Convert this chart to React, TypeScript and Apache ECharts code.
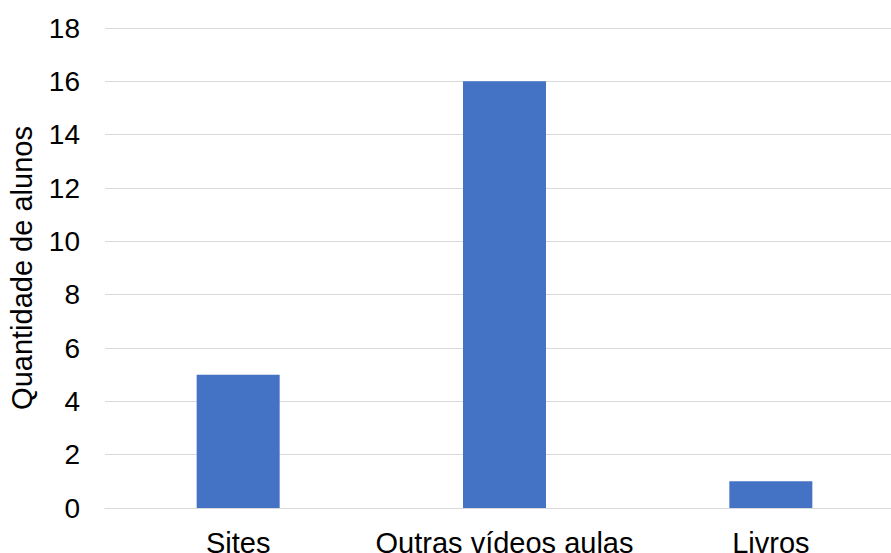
import React, { useEffect, useRef } from "react";
import * as echarts from "echarts";

const categories = ["Sites", "Outras vídeos aulas", "Livros"];
const values = [5, 16, 1];
const yMin = 0;
const yMax = 18;
const yInterval = 2;

export default function App() {
  const ref = useRef<HTMLDivElement>(null);
  useEffect(() => {
    if (!ref.current) return;
    const chart = echarts.init(ref.current, undefined, { renderer: "svg" });
    const font = "'Liberation Sans', Arial, sans-serif";
    chart.setOption({
      animation: false,
      backgroundColor: "#ffffff",
      grid: {
        left: 105,
        right: 0,
        top: 28,
        bottom: 45,
        containLabel: false,
        outerBoundsMode: "none",
      },
      xAxis: {
        type: "category",
        data: categories,
        axisLine: { show: true, lineStyle: { color: "#d9d9d9", width: 1 } },
        axisTick: { show: false },
        axisLabel: { color: "#000", fontSize: 29, fontFamily: font, margin: 20, interval: 0 },
      },
      yAxis: {
        type: "value",
        min: yMin,
        max: yMax,
        interval: yInterval,
        name: "Quantidade de alunos",
        nameLocation: "middle",
        nameRotate: 90,
        nameGap: 69,
        nameTextStyle: { color: "#000", fontSize: 29, fontFamily: font },
        axisLine: { show: false },
        axisTick: { show: false },
        axisLabel: { color: "#000", fontSize: 28, fontFamily: font, margin: 25 },
        splitLine: { show: true, lineStyle: { color: "#d9d9d9", width: 1 } },
      },
      series: [
        {
          type: "bar",
          data: values,
          barWidth: 83,
          itemStyle: { color: "#4472C4" },
        },
      ],
    });
    return () => chart.dispose();
  }, []);
  return (
    <div
      style={{ position: "fixed", left: 0, top: 0, width: 891, height: 553, overflow: "hidden", background: "#fff" }}
    >
      <div ref={ref} style={{ width: 904, height: 553 }} />
    </div>
  );
}
